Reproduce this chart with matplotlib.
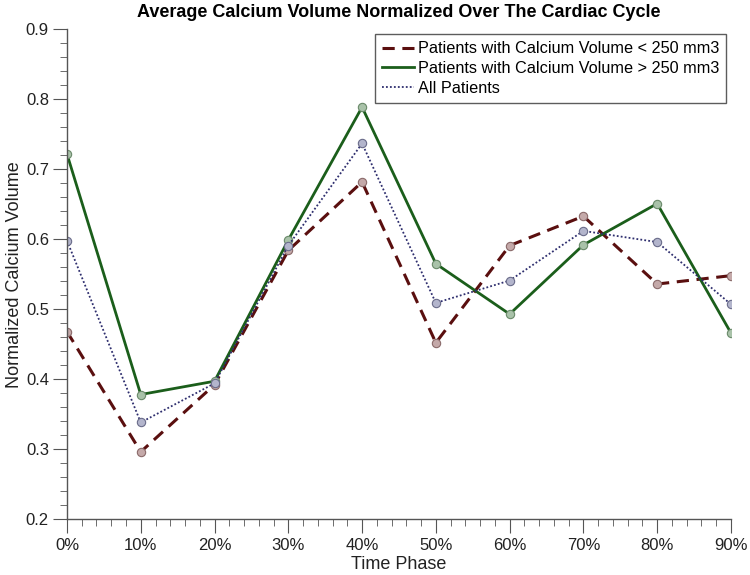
import matplotlib
matplotlib.use("Agg")
import matplotlib.pyplot as plt
from matplotlib.ticker import MultipleLocator

plt.rcParams['font.family'] = ['Liberation Sans', 'DejaVu Sans']

phase = [0, 10, 20, 30, 40, 50, 60, 70, 80, 90]
phase_labels = ['0%', '10%', '20%', '30%', '40%', '50%', '60%', '70%', '80%', '90%']

# normalized calcium volume per group
low_vol = [0.468, 0.296, 0.392, 0.584, 0.682, 0.452, 0.591, 0.633, 0.536, 0.548]
high_vol = [0.722, 0.378, 0.397, 0.599, 0.789, 0.565, 0.493, 0.592, 0.651, 0.466]
all_pat = [0.598, 0.338, 0.394, 0.591, 0.737, 0.509, 0.541, 0.612, 0.596, 0.507]

fig = plt.figure(figsize=(7.5, 5.75), dpi=100)
ax = fig.add_axes([0.0893, 0.0974, 0.8853, 0.8513])

ax.plot(phase, low_vol, color='#5a0f0f', lw=2.2, ls=(0, (4, 2.5)),
        marker='o', ms=6, mfc='#c4a9a9', mec='#8a6a6a', mew=0.8,
        label='Patients with Calcium Volume < 250 mm3')
ax.plot(phase, high_vol, color='#1b5e1b', lw=2.0, ls='-',
        marker='o', ms=6, mfc='#a9c2a9', mec='#6a8a6a', mew=0.8,
        label='Patients with Calcium Volume > 250 mm3')
ax.plot(phase, all_pat, color='#2e2e6e', lw=1.3, ls=(0, (1, 1.2)),
        marker='o', ms=6, mfc='#b3b5cc', mec='#6a6c8a', mew=0.8,
        label='All Patients')

ax.set_xlim(0, 90)
ax.set_ylim(0.2, 0.9)
ax.set_xticks(phase)
ax.set_xticklabels(phase_labels)
ax.xaxis.set_minor_locator(MultipleLocator(2))
ax.yaxis.set_major_locator(MultipleLocator(0.1))
ax.yaxis.set_minor_locator(MultipleLocator(0.02))

for s in ['top', 'right']:
    ax.spines[s].set_visible(False)
for s in ['left', 'bottom']:
    ax.spines[s].set_color('#555555')
    ax.spines[s].set_linewidth(1.0)

ax.tick_params(which='major', direction='out', length=10, color='#555555',
               labelsize=12, labelcolor='#222222')
ax.tick_params(axis='y', which='major', pad=3)
ax.tick_params(axis='x', which='major', pad=4)
ax.tick_params(which='minor', direction='out', length=5, color='#555555')

ax.set_xlabel('Time Phase', fontsize=13, color='#222222', labelpad=2)
ax.set_ylabel('Normalized Calcium Volume', fontsize=13, color='#222222', labelpad=2)
ax.set_title('Average Calcium Volume Normalized Over The Cardiac Cycle',
             fontsize=13, fontweight='bold', pad=9)

leg = ax.legend(loc='upper right', bbox_to_anchor=(0.993, 0.991), fontsize=11.7,
                frameon=True, fancybox=False, edgecolor='#333333',
                handlelength=2.0, handletextpad=0.2, borderpad=0.45,
                labelspacing=0.3, borderaxespad=0.0)
leg.get_frame().set_linewidth(1.0)
for h in leg.legend_handles:
    h.set_marker('')

fig.savefig('out.png', dpi=100)
